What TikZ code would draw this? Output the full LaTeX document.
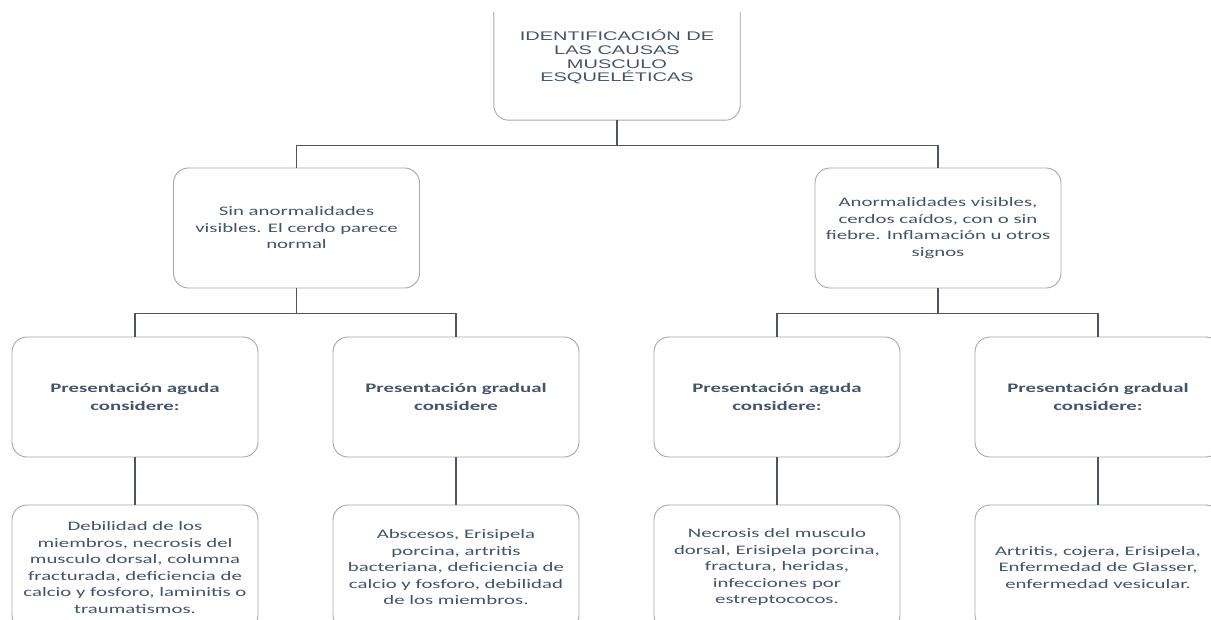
\documentclass[tikz,border=0pt]{standalone}
\usepackage{fontspec}
\newfontfamily\calf[FakeStretch=1.6]{Carlito}
\newfontfamily\arif[FakeStretch=1.6]{Liberation Sans}
\definecolor{txtc}{HTML}{44546A}
\definecolor{linec}{HTML}{4A5668}
\definecolor{boxc}{HTML}{A6A6A6}
\tikzset{
  boxnode/.style={draw=boxc, line width=0.9pt, rounded corners=15pt, fill=white,
    minimum width=246pt, inner sep=0pt, text=txtc, align=center},
  midbox/.style={boxnode, minimum height=120pt, font=\calf\fontsize{13}{16.5}\selectfont},
  l3box/.style={boxnode, minimum height=120pt, font=\calf\bfseries\fontsize{13}{18}\selectfont},
  l4box/.style={boxnode, minimum height=125pt, font=\calf\fontsize{13}{16.5}\selectfont},
  conn/.style={draw=linec, line width=1.2pt},
}
\begin{document}
\begin{tikzpicture}[x=1pt,y=-1pt]
\useasboundingbox (0,0) rectangle (1211,620);
\begin{scope}
\clip (0,0) rectangle (1211,620);
% top box (open at top)
\node[minimum width=246pt, minimum height=108pt, inner sep=0pt] (top) at (617,66) {};
\draw[draw=boxc, line width=0.9pt, rounded corners=15pt] (top.north west) -- (top.south west) -- (top.south east) -- (top.north east);
\node[text=txtc, align=center, font=\arif\fontsize{12.5}{13.8}\selectfont] (toptext) at (617,57)
  {IDENTIFICACIÓN DE\\LAS CAUSAS\\MUSCULO\\ESQUELÉTICAS};
% level 2
\node[midbox] (mL) at (296.5,228) {Sin anormalidades\\visibles. El cerdo parece\\normal};
\node[midbox] (mR) at (938,228) {Anormalidades visibles,\\cerdos caídos, con o sin\\fiebre. Inflamación u otros\\signos};
% level 3
\node[l3box] (a1) at (135,397) {Presentación aguda\\considere:};
\node[l3box] (a2) at (456,397) {Presentación gradual\\considere};
\node[l3box] (a3) at (777,397) {Presentación aguda\\considere:};
\node[l3box] (a4) at (1098,397) {Presentación gradual\\considere:};
% level 4
\node[l4box] (b1) at (135,567.5) {Debilidad de los\\miembros, necrosis del\\musculo dorsal, columna\\fracturada, deficiencia de\\calcio y fosforo, laminitis o\\traumatismos.};
\node[l4box] (b2) at (456,567.5) {Abscesos, Erisipela\\porcina, artritis\\bacteriana, deficiencia de\\calcio y fosforo, debilidad\\de los miembros.};
\node[l4box] (b3) at (777,567.5) {Necrosis del musculo\\dorsal, Erisipela porcina,\\fractura, heridas,\\infecciones por\\estreptococos.};
\node[l4box] (b4) at (1098,567.5) {Artritis, cojera, Erisipela,\\Enfermedad de Glasser,\\enfermedad vesicular.};
% connectors
\draw[conn] (top.south) -- ++(0,25) -| (mL.north);
\draw[conn] (top.south) -- ++(0,25) -| (mR.north);
\draw[conn] (mL.south) -- ++(0,25) -| (a1.north);
\draw[conn] (mL.south) -- ++(0,25) -| (a2.north);
\draw[conn] (mR.south) -- ++(0,25) -| (a3.north);
\draw[conn] (mR.south) -- ++(0,25) -| (a4.north);
\draw[conn] (a1.south) -- (b1.north);
\draw[conn] (a2.south) -- (b2.north);
\draw[conn] (a3.south) -- (b3.north);
\draw[conn] (a4.south) -- (b4.north);
\end{scope}
\end{tikzpicture}
\end{document}
